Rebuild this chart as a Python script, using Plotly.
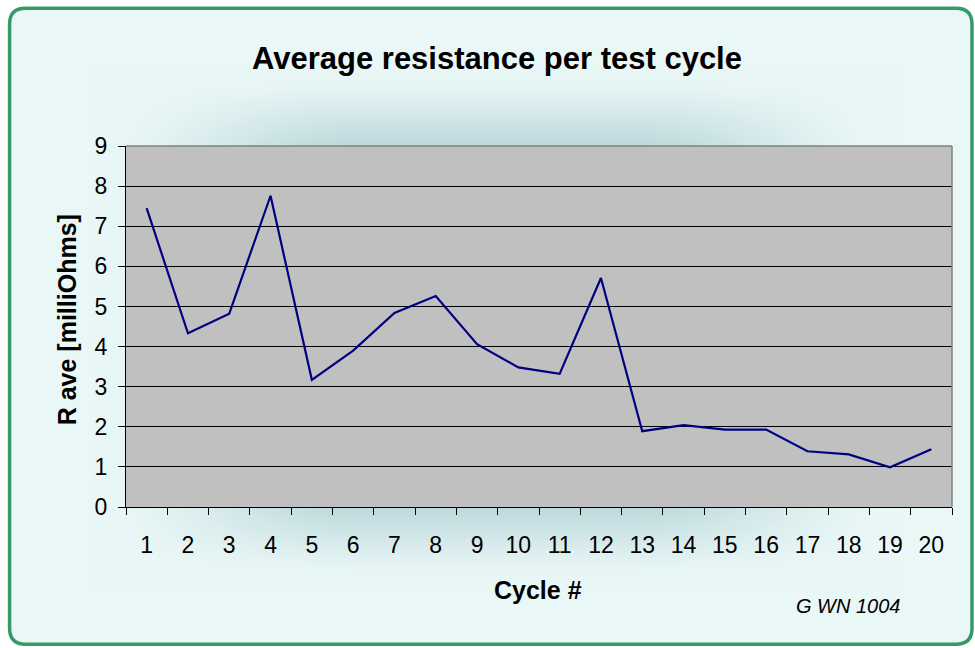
import base64, zlib, struct
import numpy as np
import plotly.graph_objects as go

# ---- data ----
cycles = [str(i) for i in range(1, 21)]
r_ave = [7.45, 4.33, 4.82, 7.76, 3.17, 3.90, 4.84, 5.26, 4.06, 3.48,
         3.32, 5.71, 1.89, 2.04, 1.93, 1.93, 1.39, 1.31, 0.99, 1.44]
y_ticks = list(range(0, 10))

W, H = 975, 648
PX0, PX1, PY0, PY1 = 125.5, 952.0, 146.0, 507.5   # plot area in pixels


def to_paper(px, py):
    return (px - PX0) / (PX1 - PX0), (PY1 - py) / (PY1 - PY0)


# ---- background image (soft teal glow on pale cyan, white outside rounded frame) ----
def make_bg():
    s = 2
    w, h = W // s + 1, H // s + 1
    yy, xx = np.mgrid[0:h, 0:w].astype(float)
    xx *= s
    yy *= s
    base = np.array([234, 247, 247], float)
    glow = np.array([180, 212, 215], float)

    def soft(v, a, b, f):
        lo = np.clip((v - (a - f)) / (2 * f), 0, 1)
        hi = np.clip(((b + f) - v) / (2 * f), 0, 1)
        lo = lo * lo * (3 - 2 * lo)
        hi = hi * hi * (3 - 2 * hi)
        return lo * hi

    m = soft(xx, 230, 760, 140) * soft(yy, 118, 535, 50) * 0.95
    img = base[None, None, :] * (1 - m[..., None]) + glow[None, None, :] * m[..., None]
    # outside rounded frame -> white
    x0, y0, x1, y1, r = 9, 8, 972, 645, 16
    cx = np.clip(xx, x0 + r, x1 - r)
    cy = np.clip(yy, y0 + r, y1 - r)
    inside = ((xx - cx) ** 2 + (yy - cy) ** 2 <= r * r) & (xx >= x0) & (xx <= x1) & (yy >= y0) & (yy <= y1)
    img[~inside] = 255
    img = img.astype(np.uint8)
    raw = b"".join(b"\x00" + img[i].tobytes() for i in range(h))

    def chunk(t, d):
        c = struct.pack(">I", len(d)) + t + d
        return c + struct.pack(">I", zlib.crc32(t + d) & 0xffffffff)

    png = b"\x89PNG\r\n\x1a\n" + chunk(b"IHDR", struct.pack(">IIBBBBB", w, h, 8, 2, 0, 0, 0)) \
        + chunk(b"IDAT", zlib.compress(raw, 9)) + chunk(b"IEND", b"")
    return "data:image/png;base64," + base64.b64encode(png).decode()


FONT = "Liberation Sans, Arial, sans-serif"

fig = go.Figure()
fig.add_trace(go.Scatter(
    x=cycles, y=r_ave, mode="lines",
    line=dict(color="#000080", width=2.2),
    showlegend=False, hoverinfo="x+y",
))

fig.update_layout(
    width=W, height=H,
    margin=dict(l=PX0, r=W - PX1, t=PY0, b=H - PY1, pad=0),
    paper_bgcolor="white",
    plot_bgcolor="#C0C0C0",
    font=dict(family=FONT, color="black"),
    xaxis=dict(
        type="category", tickson="boundaries",
        range=[-0.5, 19.5],
        showgrid=False, zeroline=False,
        showline=True, linecolor="#000000", linewidth=1,
        ticks="outside", ticklen=7, tickcolor="#000000", tickwidth=1,
        tickfont=dict(size=23, family=FONT), ticklabelstandoff=17,
    ),
    yaxis=dict(
        range=[0, 9], tickvals=y_ticks,
        showgrid=True, gridcolor="#000000", gridwidth=1,
        zeroline=False,
        showline=True, linecolor="#000000", linewidth=1,
        ticks="outside", ticklen=7, tickcolor="#000000", tickwidth=1,
        tickfont=dict(size=23, family=FONT), ticklabelstandoff=6,
    ),
)

fig.add_layout_image(dict(
    source=make_bg(), xref="paper", yref="paper",
    x=to_paper(0, 0)[0], y=to_paper(0, 0)[1],
    sizex=W / (PX1 - PX0), sizey=H / (PY1 - PY0),
    xanchor="left", yanchor="top", sizing="stretch", layer="below",
))

# gray plot area (drawn above the background image, below grid/data)
fig.add_shape(type="rect", xref="paper", yref="paper", x0=0, x1=1, y0=0, y1=1,
              fillcolor="#C0C0C0", line=dict(width=0), layer="below")

# plot frame (top/right in gray)
fig.add_shape(type="line", xref="paper", yref="paper", x0=0, x1=1, y0=1, y1=1,
              line=dict(color="#808080", width=1.5))
fig.add_shape(type="line", xref="paper", yref="paper", x0=1, x1=1, y0=0, y1=1,
              line=dict(color="#808080", width=1.5))

# rounded green frame
bx0, by0, bx1, by1, r = 9, 8, 972, 645, 16
p = lambda px, py: "%.5f,%.5f" % to_paper(px, py)
path = ("M " + p(bx0 + r, by0) + " L " + p(bx1 - r, by0) + " Q " + p(bx1, by0) + " " + p(bx1, by0 + r) +
        " L " + p(bx1, by1 - r) + " Q " + p(bx1, by1) + " " + p(bx1 - r, by1) +
        " L " + p(bx0 + r, by1) + " Q " + p(bx0, by1) + " " + p(bx0, by1 - r) +
        " L " + p(bx0, by0 + r) + " Q " + p(bx0, by0) + " " + p(bx0 + r, by0) + " Z")
fig.add_shape(type="path", path=path, xref="paper", yref="paper",
              line=dict(color="#349A66", width=3.5), fillcolor="rgba(0,0,0,0)", layer="above")

# texts
tx, ty = to_paper(497, 58)
fig.add_annotation(text="<b>Average resistance per test cycle</b>", x=tx, y=ty,
                   xref="paper", yref="paper", showarrow=False,
                   xanchor="center", yanchor="middle", font=dict(size=31, family=FONT))
ax_, ay_ = to_paper(538, 591)
fig.add_annotation(text="<b>Cycle #</b>", x=ax_, y=ay_, xref="paper", yref="paper",
                   showarrow=False, xanchor="center", yanchor="middle",
                   font=dict(size=25, family=FONT))
yx, yy_ = to_paper(66, 320)
fig.add_annotation(text="<b>R ave [milliOhms]</b>", x=yx, y=yy_, xref="paper", yref="paper",
                   showarrow=False, xanchor="center", yanchor="middle", textangle=-90,
                   font=dict(size=25, family=FONT))
gx, gy = to_paper(848, 607)
fig.add_annotation(text="<i>G WN 1004</i>", x=gx, y=gy, xref="paper", yref="paper",
                   showarrow=False, xanchor="center", yanchor="middle",
                   font=dict(size=20, family=FONT))

fig.write_html("out.html", config={"displayModeBar": False},
               post_script="document.body.style.margin='0';")
